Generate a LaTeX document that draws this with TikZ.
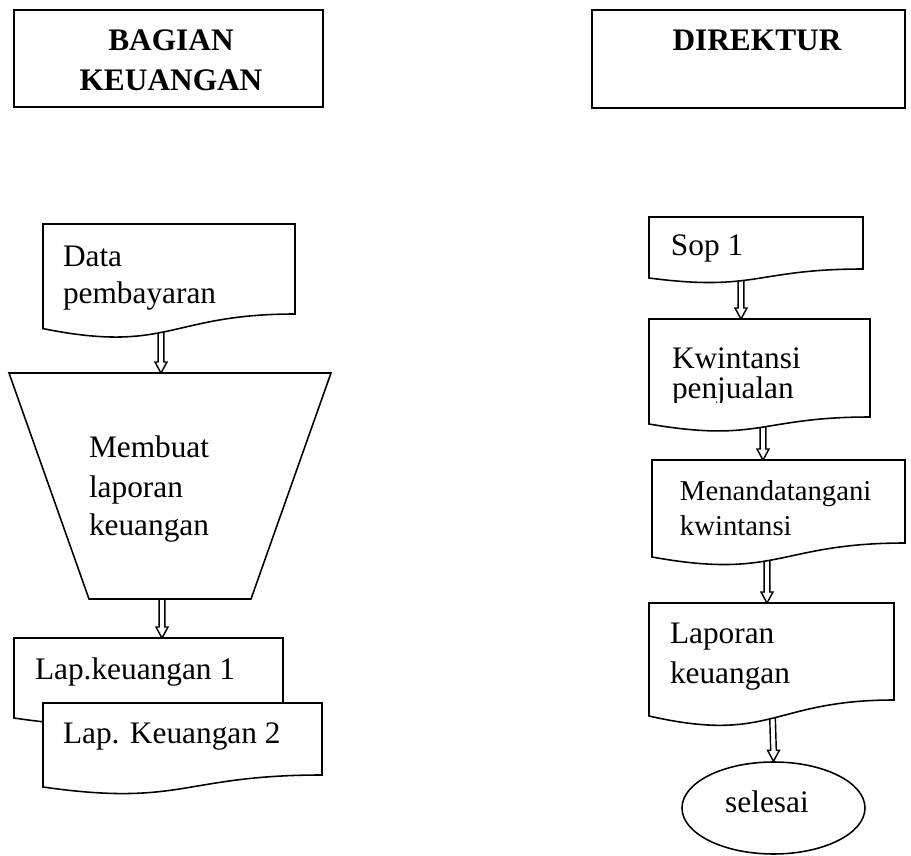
\documentclass[tikz,border=0pt]{standalone}
\usepackage{fontspec}
\setmainfont{Liberation Serif}
\usetikzlibrary{calc,shapes.geometric}
\tikzset{
  shapeline/.style={draw=black, line width=0.6pt, fill=white, line join=miter},
  txt/.style={inner sep=0pt, outer sep=0pt, anchor=base west, font=\fontsize{12}{14}\selectfont},
  smalltxt/.style={txt, font=\fontsize{11}{13}\selectfont},
  headtxt/.style={inner sep=0pt, outer sep=0pt, anchor=base, font=\fontsize{12}{14}\selectfont\bfseries},
  arrowbody/.style={draw=black, line width=0.55pt, fill=white, line join=miter},
}
% document shape: x0, x1, ytop, yRight, yLeft, yControl
\newcommand\docshape[6]{%
  \path[shapeline] (#1,#3) -- (#2,#3) -- (#2,#4)
    .. controls ({(#1+#2)/2},#4) and ({(#1+#2)/2},#6) .. (#1,#5) -- cycle;}
% hollow vertical arrow from coordinate #1 down to coordinate #2
\newcommand\hollowarrow[2]{%
  \path[arrowbody] ($(#1)+(-2.8,0)$) -- ($(#2)+(-2.8,-11)$) -- ($(#2)+(-6,-11)$) -- (#2)
    -- ($(#2)+(6,-11)$) -- ($(#2)+(2.8,-11)$) -- ($(#1)+(2.8,0)$);}
\begin{document}
\begin{tikzpicture}[x=0.383pt, y=-0.383pt]
\useasboundingbox (0,0) rectangle (911,856);

% connector end points
\coordinate (dataB) at (161,320);
\coordinate (trapT) at (161,373);
\coordinate (trapB) at (162,599);
\coordinate (lap1T) at (162,638);
\coordinate (sopB) at (741,268);
\coordinate (kwT) at (741,319);
\coordinate (kwB) at (763,416);
\coordinate (mtT) at (763,460);
\coordinate (mtB) at (767,542);
\coordinate (lkT) at (767,603);
\coordinate (lkB) at (772,699);

% ellipse (end)
\node[ellipse, draw=black, line width=0.6pt, minimum width=183*0.383pt, minimum height=92*0.383pt, inner sep=0pt] (end) at (773.5,808) {};
\node[inner sep=0pt, anchor=base, font=\fontsize{12}{14}\selectfont] (endtxt) at (767,812) {selesai};

% connectors (drawn first, shapes cover their tops)
\hollowarrow{dataB}{trapT}
\hollowarrow{trapB}{lap1T}
\hollowarrow{sopB}{kwT}
\hollowarrow{kwB}{mtT}
\hollowarrow{mtB}{lkT}
\hollowarrow{lkB}{end.north}

% headers
\path[shapeline] (14,10) rectangle (323,107);
\node[headtxt] (hk1) at (171,50) {BAGIAN};
\node[headtxt] (hk2) at (171,90) {KEUANGAN};
\path[shapeline] (592,10) rectangle (905,108);
\node[headtxt] (hd) at (757,50) {DIREKTUR};

% ---------- left column ----------
\docshape{43}{295}{224}{314}{328.6}{354}
\node[txt] (data1) at (63,266) {Data};
\node[txt] (data2) at (63,303) {pembayaran};

\path[shapeline] (9,373) -- (331,373) -- (251,599) -- (89,599) -- cycle;
\node[txt] (mb1) at (89,457) {Membuat};
\node[txt] (mb2) at (89,497) {laporan};
\node[txt] (mb3) at (89,535) {keuangan};

\docshape{14}{283}{638}{707}{718}{738}
\node[txt] (lap1) at (35,679) {Lap.keuangan 1};
\docshape{43}{322}{703}{775}{787}{807}
\node[txt] (lap2) at (63,743) {Lap. Keuangan 2};

% ---------- right column ----------
\docshape{649}{863}{217}{269}{278}{292}
\node[txt] (sop) at (671,255) {Sop 1};

\docshape{649}{870}{319}{417}{424}{443}
\begin{scope}
  \clip (649,319) rectangle (870,402);
  \node[txt] (kw1) at (672,368) {Kwintansi};
  \node[txt] (kw2) at (672,398) {penjualan};
\end{scope}

\docshape{652}{905}{460}{543}{557}{580}
\node[smalltxt] (mt1) at (680,500) {Menandatangani};
\node[smalltxt] (mt2) at (680,535) {kwintansi};

\docshape{649}{894}{603}{700}{716}{744}
\node[txt] (lk1) at (670,643) {Laporan};
\node[txt] (lk2) at (670,683) {keuangan};
\end{tikzpicture}
\end{document}
